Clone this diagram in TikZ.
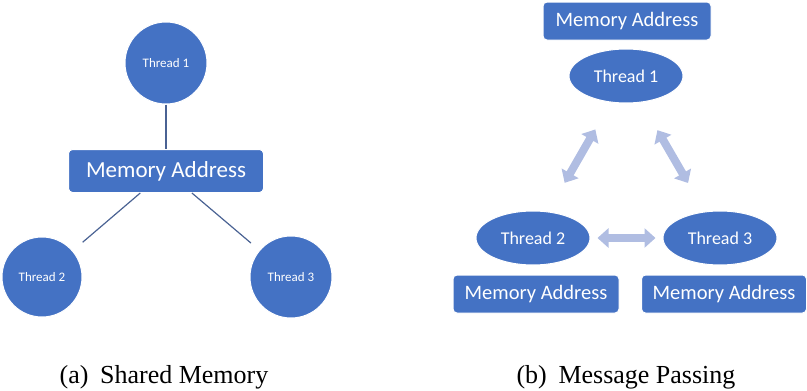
\documentclass[tikz,border=0pt]{standalone}
\usepackage{fontspec}
\setmainfont{Liberation Serif}
\newfontfamily\calibri{Carlito}
\usetikzlibrary{arrows.meta,shapes.geometric}
\definecolor{nodeblue}{HTML}{4472C4}
\definecolor{linkblue}{HTML}{4A6293}
\definecolor{msgblue}{HTML}{B0BDE2}

\begin{document}
\begin{tikzpicture}[x=1pt,y=-1pt,
    thr/.style={draw=white,line width=1pt,fill=nodeblue,text=white,inner sep=0pt},
    membox/.style={thr,rectangle,rounded corners=4pt},
    link/.style={draw=linkblue,line width=1.2pt},
    msg/.style={draw=msgblue,line width=8pt,{Triangle[width=19pt,length=11pt]}-{Triangle[width=19pt,length=11pt]}}]
  \useasboundingbox (0,0) rectangle (807,391);
  % (a) shared memory
  \node[thr,circle,minimum size=82pt,font=\calibri\fontsize{13}{15}\selectfont] (st1) at (166,63) {Thread 1};
  \node[membox,minimum width=195pt,minimum height=43pt,font=\calibri\fontsize{23}{27}\selectfont] (smem) at (166,171) {Memory Address};
  \node[thr,circle,minimum size=80pt,font=\calibri\fontsize{13}{15}\selectfont] (st2) at (42,277) {Thread 2};
  \node[thr,circle,minimum size=82pt,font=\calibri\fontsize{13}{15}\selectfont] (st3) at (291,277) {Thread 3};
  \draw[link] (st1) -- (smem);
  \draw[link,shorten >=13pt] (smem) -- (st2);
  \draw[link,shorten >=11pt] (smem) -- (st3);
  % (b) message passing
  \node[membox,minimum width=168pt,minimum height=38pt,font=\calibri\fontsize{20.5}{24}\selectfont] (mem1) at (627,21) {Memory Address};
  \node[thr,ellipse,minimum width=114pt,minimum height=54pt,font=\calibri\fontsize{18}{21}\selectfont] (mt1) at (626,76) {Thread 1};
  \node[thr,ellipse,minimum width=114pt,minimum height=54pt,font=\calibri\fontsize{18}{21}\selectfont] (mt2) at (533,238) {Thread 2};
  \node[thr,ellipse,minimum width=114pt,minimum height=54pt,font=\calibri\fontsize{18}{21}\selectfont] (mt3) at (720,238) {Thread 3};
  \node[membox,minimum width=166pt,minimum height=38pt,font=\calibri\fontsize{20.5}{24}\selectfont] (mem2) at (536,294) {Memory Address};
  \node[membox,minimum width=165pt,minimum height=38pt,font=\calibri\fontsize{20.5}{24}\selectfont] (mem3) at (724,294) {Memory Address};
  \draw[msg,shorten <=31pt,shorten >=33pt] (mt1) -- (mt2);
  \draw[msg,shorten <=32pt,shorten >=33pt] (mt1) -- (mt3);
  \draw[msg,shorten <=7pt,shorten >=7pt] (mt2) -- (mt3);
  % captions
  \node[font=\fontsize{26}{30}\selectfont,anchor=base,inner sep=0pt] (capa) at (164,383) {(a)\hspace{0.45em}Shared Memory};
  \node[font=\fontsize{26}{30}\selectfont,anchor=base,inner sep=0pt] (capb) at (626,383) {(b)\hspace{0.45em}Message Passing};
\end{tikzpicture}
\end{document}
